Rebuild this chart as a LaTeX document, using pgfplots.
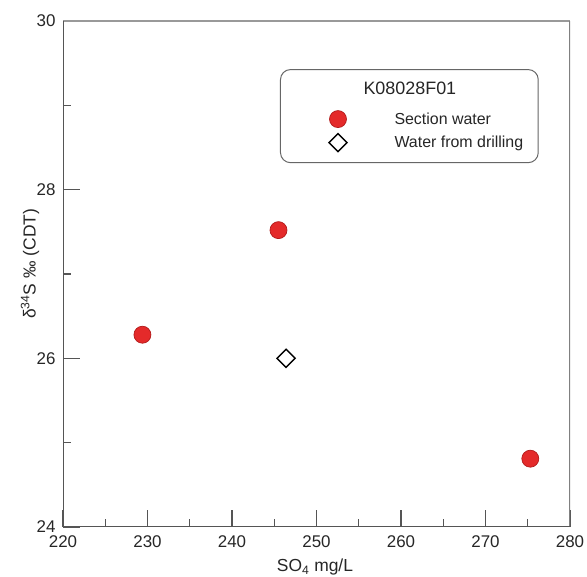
\documentclass[border=0pt]{standalone}
\usepackage{pgfplots}
\pgfplotsset{compat=1.18}
\usepackage{fontspec}
\setmainfont{Liberation Sans}
\definecolor{secred}{HTML}{E42A2A}
\definecolor{secedge}{HTML}{B21B1B}
\definecolor{axdark}{HTML}{555555}
\pgfplotsset{
  mylegimg/.style={legend image code/.code={\path (-42bp,0bp) (56bp,0bp);
    \draw[mark repeat=2,mark phase=2,##1] plot coordinates {(-5bp,0bp) (0bp,0bp) (5bp,0bp)};}},
  titleimg/.style={legend image code/.code={\path (-42bp,-15bp) (56bp,8bp);}},
}
\begin{document}
\begin{tikzpicture}[x=1bp,y=1bp]
\path[use as bounding box] (0,0) rectangle (587,577);
\begin{axis}[
  at={(63bp,50bp)}, anchor=south west,
  scale only axis, width=507bp, height=506bp,
  xmin=220, xmax=280, ymin=24, ymax=30,
  xtick={220,230,...,280}, ytick={24,26,28,30},
  minor xtick={225,235,...,275}, minor ytick={25,27,29},
  tick align=inside, tick pos=left,
  major tick length=17bp, minor tick length=8bp,
  tick style={axdark, line width=1.2bp},
  axis line style={draw=none},
  ticklabel style={font=\fontsize{17}{20}\selectfont, text=black!85},
  xticklabel style={yshift=-5bp},
  yticklabel style={xshift=-4bp},
  /pgf/number format/assume math mode=true,
  /pgf/number format/1000 sep={},
  every axis x label/.style={at={(axis description cs:0.497,-0.0885)}, anchor=base},
  every axis y label/.style={at={(axis description cs:-0.0651,0.52)}, anchor=center, rotate=90},
  label style={font=\fontsize{17.5}{21}\selectfont, text=black!85},
  xlabel={SO\textsubscript{4} mg/L},
  ylabel={δ\textsuperscript{34}S ‰ (CDT)},
  legend style={at={(0.428,0.905)}, anchor=north west,
    draw=black!60, line width=1bp, rounded corners=10bp,
    inner xsep=15bp, inner ysep=11bp, row sep=6bp, column sep=0pt,
    font=\fontsize{16}{19}\selectfont, text=black!85,
    nodes={inner sep=0pt}},
  legend cell align=left,
]
\addlegendimage{titleimg}
\addlegendentry{\hspace*{-31bp}\fontsize{18}{21}\selectfont K08028F01}

\addplot[only marks, mark=*, mark size=8.5bp,
  mark options={fill=secred, draw=secedge, line width=0.7bp}, mylegimg]
  coordinates {(229.4,26.28) (245.5,27.52) (275.3,24.81)};
\addlegendentry{Section water}

\addplot[only marks, mark=square, mark size=6.4bp,
  mark options={fill=white, draw=black, line width=1.4bp, rotate=45}, mylegimg]
  coordinates {(246.4,26.0)};
\addlegendentry{Water from drilling}

\draw[draw=black!40, line width=1.3bp] (rel axis cs:0,1) -- (rel axis cs:1,1);
\draw[draw=black!50, line width=1.3bp] (rel axis cs:1,1) -- (rel axis cs:1,0);
\draw[draw=axdark, line width=1.3bp] (rel axis cs:0,1) -- (rel axis cs:0,0) -- (rel axis cs:1,0);
\end{axis}
\end{tikzpicture}
\end{document}
